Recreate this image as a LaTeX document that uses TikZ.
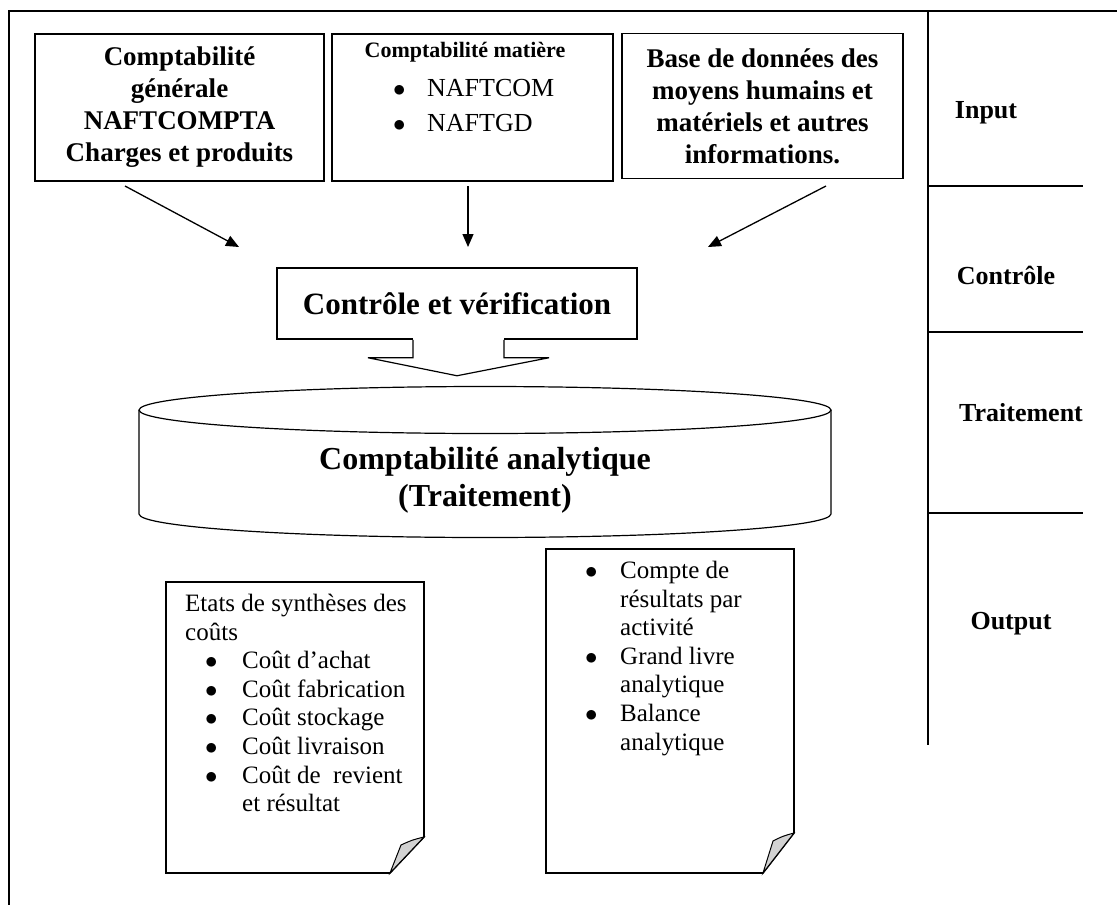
\documentclass[tikz,border=0pt]{standalone}
\usepackage{fontspec}
\setmainfont{Liberation Serif}
\usepackage{tikz}
\usetikzlibrary{positioning,calc,arrows.meta}
\tikzset{boite/.style={draw, line width=1.5pt, inner sep=0pt},
         titre/.style={font=\fontsize{27}{32}\selectfont\bfseries, align=center},
         etape/.style={font=\fontsize{26}{30}\selectfont\bfseries},
         corps/.style={font=\fontsize{25}{28.6}\selectfont, align=left, inner sep=0pt},
         fleche/.style={-{Triangle[length=13pt,width=11pt]}, line width=1.3pt},
         trait/.style={line width=1.6pt},
         pli/.style={draw, line width=1pt, fill=gray!35}
}
\newcommand{\puce}[2]{\makebox[#1][l]{$\bullet$}#2}

\begin{document}
\begin{tikzpicture}[x=1pt,y=-1pt]
  \useasboundingbox (0,0) rectangle (1117,905);
  % cadre et colonne des phases
  \draw[trait] (1117,11) -- (9,11) -- (9,905);
  \draw[trait] (928,11) -- (928,745);
  \draw[trait] (928,186) -- (1083,186);
  \draw[trait] (928,332) -- (1083,332);
  \draw[trait] (928,513) -- (1083,513);
  \node[etape] (input) at (986,113) {Input};
  \node[etape] (ctl) at (1006,275) {Contrôle};
  \node[etape] (trt) at (1021,413) {Traitement};
  \node[etape] (output) at (1011,624) {Output};

  % sources
  \node[boite, titre, minimum width=289pt, minimum height=147pt] (cg) at (179.5,107.5)
       {Comptabilité\\générale\\NAFTCOMPTA\\Charges et produits};
  \node[boite, minimum width=281pt, minimum height=147pt] (cm) at (472.5,107.5) {};
  \node[font=\fontsize{22}{26}\selectfont\bfseries] (cmt) at (465,52) {Comptabilité matière};
  \node[font=\fontsize{26}{35}\selectfont, align=left, anchor=west, inner sep=0pt] (cml) at (393,106)
       {\puce{34pt}{NAFTCOM}\\\puce{34pt}{NAFTGD}};
  \node[boite, titre, minimum width=281pt, minimum height=145pt] (bd) at (762.5,106)
       {Base de données des\\moyens humains et\\matériels et autres\\informations.};

  \coordinate (f1a) at (125,186); \coordinate (f1b) at (239,247);
  \coordinate (f2a) at (468,186); \coordinate (f2b) at (468,247);
  \coordinate (f3a) at (826,186); \coordinate (f3b) at (708,247);
  \draw[fleche] (f1a) -- (f1b);
  \draw[fleche] (f2a) -- (f2b);
  \draw[fleche] (f3a) -- (f3b);

  % controle
  \node[boite, font=\fontsize{31}{36}\selectfont\bfseries, minimum width=360pt, minimum height=71pt] (ctrl) at (457,303.5)
       {Contrôle et vérification};
  \fill[white] ($(ctrl.south)+(-44,-2)$) rectangle ($(ctrl.south)+(47,2)$);
  \draw[line width=1.2pt] ($(ctrl.south)+(-44,0)$) -- ++(0,18) -- ++(-45,0) -- ($(ctrl.south)+(0,36)$)
       -- ++(92,-18) -- ++(-45,0) -- ++(0,-18);

  % base analytique
  \draw[line width=1.2pt] (485,410) ellipse [x radius=346pt, y radius=23.5pt];
  \draw[line width=1.2pt] (139,410) -- (139,514) arc[start angle=180, end angle=360, x radius=346pt, y radius=23.5pt] -- (831,410);
  \node[font=\fontsize{32}{37}\selectfont\bfseries, align=center] (ca) at (485,480)
       {Comptabilité analytique\\(Traitement)};

  % etats de sortie
  \draw[trait] (166,582) -- (424,582) -- (424,837) -- (390,873) -- (166,873) -- cycle;
  \draw[pli] (424,837) .. controls (412,840) .. (401,845) -- (390,873) -- cycle;
  \node[corps, anchor=north west] (d1) at (185,594)
       {Etats de synthèses des\\coûts\\
        \hspace*{20pt}\puce{37pt}{Coût d’achat}\\
        \hspace*{20pt}\puce{37pt}{Coût fabrication}\\
        \hspace*{20pt}\puce{37pt}{Coût stockage}\\
        \hspace*{20pt}\puce{37pt}{Coût livraison}\\
        \hspace*{20pt}\puce{37pt}{Coût de \ revient}\\
        \hspace*{57pt}et résultat};

  \draw[trait] (546,549) -- (794,549) -- (794,833) -- (763,873) -- (546,873) -- cycle;
  \draw[pli] (794,833) .. controls (783,836) .. (773,841) -- (763,873) -- cycle;
  \node[corps, anchor=north west] (d2) at (585,561)
       {\puce{35pt}{Compte de}\\\hspace*{35pt}résultats par\\\hspace*{35pt}activité\\
        \puce{35pt}{Grand livre}\\\hspace*{35pt}analytique\\
        \puce{35pt}{Balance}\\\hspace*{35pt}analytique};
\end{tikzpicture}
\end{document}
